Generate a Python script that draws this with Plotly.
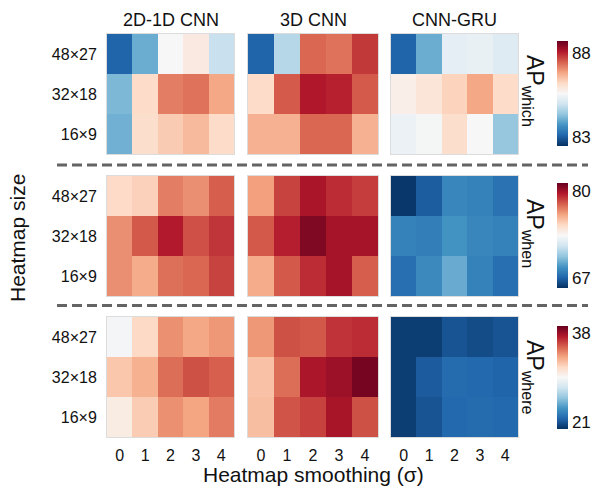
import plotly.graph_objects as go

W, H = 595, 489

models = ["2D-1D CNN", "3D CNN", "CNN-GRU"]
sizes = ["48×27", "32×18", "16×9"]
sigmas = ["0", "1", "2", "3", "4"]

# AP_which
which_2d1d = [[83.1, 84.05, 85.6, 85.9, 84.9],
              [84.2, 86.2, 87.2, 87.3, 86.8],
              [84.1, 86.15, 86.4, 86.6, 86.2]]
which_3d = [[83.1, 84.7, 87.4, 87.3, 87.8],
            [86.2, 87.5, 88.1, 88.0, 87.5],
            [86.7, 86.7, 87.4, 87.4, 86.7]]
which_gru = [[83.1, 84.05, 85.3, 85.35, 85.2],
             [85.8, 86.0, 86.3, 86.8, 86.2],
             [85.4, 85.55, 86.15, 85.6, 84.4]]
# AP_when
when_2d1d = [[74.9, 75.2, 77.4, 77.0, 78.1],
             [77.0, 78.2, 79.6, 78.4, 79.0],
             [77.0, 76.3, 77.7, 77.9, 78.7]]
when_3d = [[76.6, 78.7, 79.8, 79.2, 78.8],
           [78.2, 79.5, 80.7, 79.9, 79.9],
           [76.3, 78.2, 79.2, 79.9, 78.1]]
when_gru = [[65.7, 66.8, 68.2, 68.0, 67.5],
            [68.0, 67.9, 68.6, 68.2, 68.0],
            [67.4, 68.3, 69.4, 68.0, 67.4]]
# AP_where
where_2d1d = [[29.3, 31.5, 34.0, 33.3, 33.8],
              [32.2, 33.0, 35.0, 35.8, 35.4],
              [30.3, 32.0, 34.0, 33.4, 34.6]]
where_3d = [[33.8, 35.8, 35.6, 36.6, 36.8],
            [32.4, 35.0, 37.5, 37.9, 38.9],
            [32.5, 35.7, 36.2, 37.6, 35.8]]
where_gru = [[20.2, 20.2, 21.0, 20.7, 21.0],
             [20.2, 21.3, 21.9, 21.8, 21.6],
             [20.2, 21.0, 21.8, 21.9, 21.8]]

metrics = ["which", "when", "where"]
data = [[which_2d1d, which_3d, which_gru],
        [when_2d1d, when_3d, when_gru],
        [where_2d1d, where_3d, where_gru]]
ranges = [(82.5, 88.7), (65.5, 81.2), (19.7, 39.3)]
cbar_ticks = [[83, 88], [67, 80], [21, 38]]

rdbu_r = ["rgb(5,48,97)", "rgb(33,102,172)", "rgb(67,147,195)", "rgb(146,197,222)",
          "rgb(209,229,240)", "rgb(247,247,247)", "rgb(253,219,199)", "rgb(244,165,130)",
          "rgb(214,96,77)", "rgb(178,24,43)", "rgb(103,0,31)"]
cscale = [[i / 10, c] for i, c in enumerate(rdbu_r)]

col_px = [(107, 234), (248, 378), (391, 518)]
row_px = [(34, 154), (176, 296), (317, 437)]
cbar_px = [(41, 146), (183, 288), (326, 429)]
ap_y = [91, 233, 377]

FONT = "Liberation Sans, Arial, sans-serif"

fig = go.Figure()
layout = dict(
    width=W, height=H, margin=dict(l=0, r=0, t=0, b=0, autoexpand=False),
    paper_bgcolor="white", plot_bgcolor="white",
    font=dict(family=FONT, color="#111", size=16),
    showlegend=False,
)
annotations = []
shapes = []

for r in range(3):
    ca = "coloraxis" if r == 0 else f"coloraxis{r+1}"
    y0, y1 = cbar_px[r]
    layout[ca] = dict(
        colorscale=cscale, cmin=ranges[r][0], cmax=ranges[r][1],
        colorbar=dict(
            x=557 / W, xanchor="left", thickness=11, xpad=0, ypad=0,
            lenmode="pixels", len=y1 - y0, y=1 - (y0 + y1) / 2 / H, yanchor="middle",
            outlinewidth=0, tickvals=cbar_ticks[r], ticks="",
            tickfont=dict(size=17, family=FONT, color="#111"),
        ),
    )
    for c in range(3):
        idx = r * 3 + c + 1
        xa = "x" if idx == 1 else f"x{idx}"
        ya = "y" if idx == 1 else f"y{idx}"
        fig.add_trace(go.Heatmap(
            z=data[r][c], x=sigmas, y=sizes, coloraxis=ca,
            xaxis=xa, yaxis=ya,
        ))
        xl, xr = col_px[c]
        yt, yb = row_px[r]
        layout["xaxis" if idx == 1 else f"xaxis{idx}"] = dict(
            domain=[xl / W, xr / W], anchor=ya, showgrid=False, zeroline=False,
            showticklabels=(r == 2), ticks="", tickfont=dict(size=16),
            showline=True, mirror=True, linecolor="#dcdcdc", linewidth=1,
            type="category", ticklabelstandoff=4,
        )
        layout["yaxis" if idx == 1 else f"yaxis{idx}"] = dict(
            domain=[1 - yb / H, 1 - yt / H], anchor=xa, showgrid=False, zeroline=False,
            showticklabels=(c == 0), ticks="", tickfont=dict(size=16),
            autorange="reversed", type="category", ticklabelstandoff=6,
            showline=True, mirror=True, linecolor="#dcdcdc", linewidth=1,
        )
    annotations.append(dict(
        text=f"AP<sub>{metrics[r]}</sub>", x=534 / W, y=1 - ap_y[r] / H,
        xref="paper", yref="paper", showarrow=False, textangle=90,
        font=dict(size=23, family=FONT, color="#111"), xanchor="center", yanchor="middle",
    ))

for c, m in enumerate(models):
    xl, xr = col_px[c]
    annotations.append(dict(
        text=m, x=(xl + xr) / 2 / W, y=1 - 20 / H, xref="paper", yref="paper",
        showarrow=False, font=dict(size=18, family=FONT, color="#111"),
        xanchor="center", yanchor="middle",
    ))

annotations.append(dict(
    text="Heatmap size", x=18 / W, y=1 - 238 / H, xref="paper", yref="paper",
    showarrow=False, textangle=-90, font=dict(size=21, family=FONT, color="#111"),
    xanchor="center", yanchor="middle",
))
annotations.append(dict(
    text="Heatmap smoothing (σ)", x=313 / W, y=1 - 474 / H, xref="paper", yref="paper",
    showarrow=False, font=dict(size=21, family=FONT, color="#111"),
    xanchor="center", yanchor="middle",
))

for yy in (165, 305.5):
    shapes.append(dict(
        type="line", xref="paper", yref="paper", x0=57 / W, x1=588 / W,
        y0=1 - yy / H, y1=1 - yy / H,
        line=dict(color="rgb(100,100,100)", width=3, dash="10px,5px"),
    ))

layout["annotations"] = annotations
layout["shapes"] = shapes
fig.update_layout(**layout)
fig.write_html("out.html", config={"displayModeBar": False},
               post_script="document.body.style.margin='0';document.body.style.overflow='hidden';")
